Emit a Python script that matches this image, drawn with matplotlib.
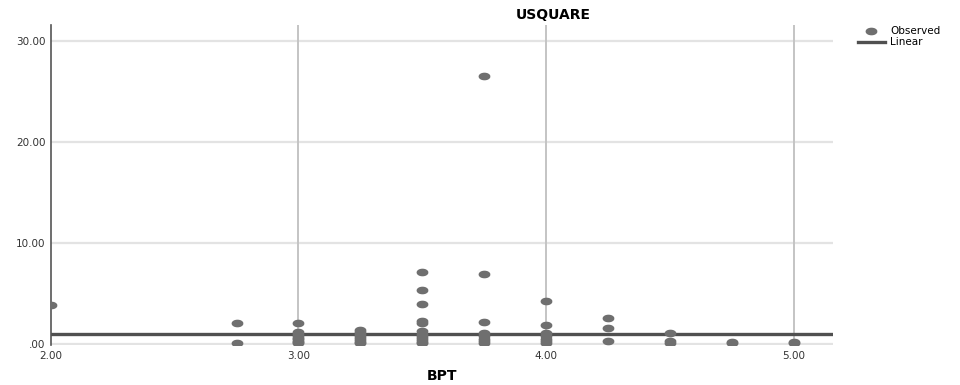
import numpy as np
import matplotlib.pyplot as plt
from matplotlib.path import Path
from matplotlib.lines import Line2D

bpt = [2.00,
       2.75, 2.75,
       3.00, 3.00, 3.00, 3.00, 3.00, 3.00, 3.00, 3.00, 3.00,
       3.25, 3.25, 3.25, 3.25, 3.25, 3.25, 3.25, 3.25,
       3.50, 3.50, 3.50, 3.50, 3.50, 3.50, 3.50, 3.50, 3.50, 3.50, 3.50, 3.50,
       3.75, 3.75, 3.75, 3.75, 3.75, 3.75, 3.75, 3.75,
       4.00, 4.00, 4.00, 4.00, 4.00, 4.00, 4.00,
       4.25, 4.25, 4.25,
       4.50, 4.50, 4.50,
       4.75, 4.75,
       5.00, 5.00]
usquare = [3.9,
           2.1, 0.1,
           2.1, 1.2, 1.0, 0.8, 0.6, 0.5, 0.3, 0.2, 0.1,
           1.4, 1.2, 1.0, 0.8, 0.6, 0.4, 0.2, 0.1,
           7.1, 5.3, 4.0, 2.3, 2.1, 1.3, 1.0, 0.8, 0.6, 0.4, 0.2, 0.1,
           26.5, 6.9, 2.2, 1.1, 0.8, 0.5, 0.3, 0.1,
           4.3, 1.9, 1.1, 0.8, 0.5, 0.3, 0.1,
           2.6, 1.6, 0.3,
           1.1, 0.3, 0.1,
           0.2, 0.1,
           0.2, 0.1]
linear_fit = 0.95

x_ticks = [2.0, 3.0, 4.0, 5.0]
y_ticks = [0, 10, 20, 30]

t = np.linspace(0, 2 * np.pi, 40)
ellipse = Path(np.column_stack([np.cos(t), 0.6 * np.sin(t)]))

fig = plt.figure(figsize=(9.6, 3.85), dpi=100)
ax = fig.add_axes([0.053, 0.104, 0.815, 0.831])

for y in y_ticks:
    ax.axhline(y, color='#e3e3e3', lw=1.6, zorder=0)
for x in x_ticks[1:]:
    ax.axvline(x, color='#c4c4c4', lw=1.4, zorder=0)

ax.axhline(linear_fit, color='#505050', lw=2.4, zorder=2)
ax.plot(bpt, usquare, ls='none', marker=ellipse, ms=7.5,
        color='#6f6f6f', mec='#6f6f6f', zorder=3)

ax.set_xlim(2.0, 5.16)
ax.set_ylim(-0.1, 31.6)
ax.set_xticks(x_ticks)
ax.set_xticklabels(['%.2f' % v for v in x_ticks])
ax.set_yticks(y_ticks)
ax.set_yticklabels(['.00', '10.00', '20.00', '30.00'])
ax.tick_params(length=0, labelsize=7.5, colors='#333333', pad=4)

for s in ['top', 'right', 'bottom']:
    ax.spines[s].set_visible(False)
ax.spines['left'].set_color('#555555')
ax.spines['left'].set_linewidth(1.2)

ax.set_xlabel('BPT', fontsize=10, fontweight='bold', labelpad=6)
fig.text(0.576, 0.96, 'USQUARE', ha='center', va='center',
         fontsize=10, fontweight='bold')

handles = [Line2D([], [], ls='none', marker=ellipse, ms=7.5, color='#6f6f6f'),
           Line2D([], [], color='#505050', lw=2.4)]
fig.legend(handles, ['Observed', 'Linear'], loc='upper left',
           bbox_to_anchor=(0.888, 0.945), frameon=False, fontsize=7.5,
           handlelength=2.6, handletextpad=0.5, labelspacing=0.1,
           borderpad=0)

fig.savefig('out.png', dpi=100)
